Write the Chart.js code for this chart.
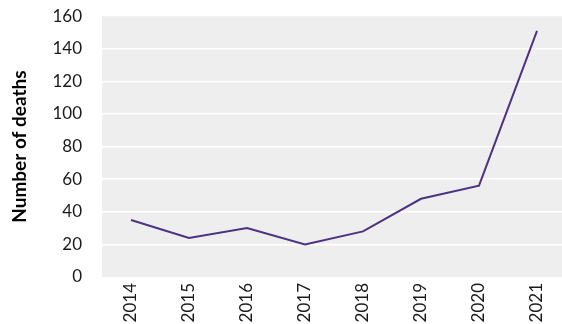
<!DOCTYPE html>
<html>
<head>
<meta charset="utf-8">
<script src="https://cdn.jsdelivr.net/npm/chart.js@4/dist/chart.umd.min.js"></script>
<style>
  html, body { margin: 0; padding: 0; background: #fff; overflow: hidden; }
  #wrap { position: relative; width: 566px; height: 338px; margin-top: -14px; }
</style>
</head>
<body>
<div id="wrap"><canvas id="deathsChart"></canvas></div>
<script>
const years = ['2014', '2015', '2016', '2017', '2018', '2019', '2020', '2021'];
const deaths = [35, 24, 30, 20, 28, 48, 56, 151];
const yTicks = [0, 20, 40, 60, 80, 100, 120, 140, 160];

const lineColor = '#4b3282';
const panelColor = '#edeeed';
const textColor = '#1a1a1a';

// grey panel behind the plot
const panelFill = {
  id: 'panelFill',
  beforeDraw(chart) {
    const { ctx, chartArea: a } = chart;
    ctx.save();
    ctx.fillStyle = panelColor;
    ctx.fillRect(a.left, a.top, a.right - a.left, a.bottom - a.top);
    ctx.restore();
  }
};

const ctx = document.getElementById('deathsChart');
new Chart(ctx, {
  type: 'line',
  data: {
    labels: years,
    datasets: [{
      label: 'Number of deaths',
      data: deaths,
      borderColor: lineColor,
      borderWidth: 2,
      pointRadius: 0,
      tension: 0,
      fill: false
    }]
  },
  options: {
    responsive: true,
    maintainAspectRatio: false,
    animation: false,
    layout: { padding: { top: 2, right: 0, bottom: 0, left: 0 } },
    plugins: {
      legend: { display: false },
      tooltip: { enabled: false }
    },
    scales: {
      x: {
        offset: true,
        border: { display: false },
        grid: { display: false, drawTicks: false },
        ticks: {
          color: textColor,
          font: { family: 'Lato', size: 17 },
          minRotation: 90,
          maxRotation: 90,
          padding: 6
        },
        afterFit(scale) { scale.height = 47; }
      },
      y: {
        min: 0,
        max: 160,
        border: { display: false },
        grid: {
          color: (c) => (c.tick.value === 0 || c.tick.value === 160) ? 'rgba(0,0,0,0)' : '#ffffff',
          lineWidth: 1.5,
          drawTicks: false
        },
        afterBuildTicks(scale) {
          scale.ticks = yTicks.map(v => ({ value: v }));
        },
        ticks: {
          color: textColor,
          font: { family: 'Lato', size: 17 },
          padding: 20
        },
        title: {
          display: true,
          text: 'Number of deaths',
          color: '#000',
          font: { family: 'Lato', size: 19, weight: 'bold' },
          padding: { top: 8, bottom: 4 }
        },
        afterFit(scale) { scale.width = 102; }
      }
    }
  },
  plugins: [panelFill]
});
</script>
</body>
</html>
